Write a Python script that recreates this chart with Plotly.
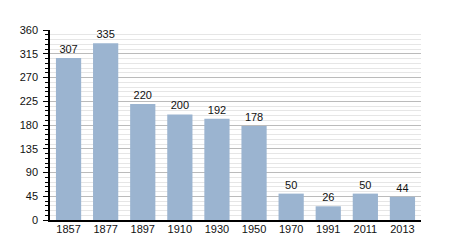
import plotly.graph_objects as go

years = ["1857", "1877", "1897", "1910", "1930", "1950", "1970", "1991", "2011", "2013"]
population = [307, 335, 220, 200, 192, 178, 50, 26, 50, 44]
y_ticks = [0, 45, 90, 135, 180, 225, 270, 315, 360]

fig = go.Figure(go.Bar(
    x=years, y=population,
    marker=dict(color="#9bb4d0", line=dict(width=0)),
    width=0.68,
    text=[str(v) for v in population],
    textposition="outside",
    textfont=dict(family="Liberation Sans, Arial", size=11, color="#111"),
    cliponaxis=False,
))

fig.update_layout(
    width=450, height=250,
    margin=dict(l=50, r=29, t=30, b=30),
    paper_bgcolor="white", plot_bgcolor="white",
    showlegend=False,
    bargap=0.32,
    font=dict(family="Liberation Sans, Arial", size=11, color="#111"),
)
fig.update_xaxes(
    type="category", showgrid=False, ticks="",
    showline=True, linecolor="black", linewidth=1.5,
    tickfont=dict(size=11),
    ticklabelstandoff=-2,
)
fig.update_yaxes(
    range=[0, 360], tickvals=y_ticks,
    showgrid=True, gridcolor="#bbbbbb", gridwidth=1,
    showline=True, linecolor="black", linewidth=1.5,
    ticks="outside", ticklen=5, tickcolor="black",
    minor=dict(dtick=9, showgrid=True, gridcolor="#e6e6e6", ticks="outside", ticklen=3, tickcolor="black"),
    zeroline=False,
    tickfont=dict(size=11),
    ticklabelstandoff=3,
)

fig.write_html("out.html")
